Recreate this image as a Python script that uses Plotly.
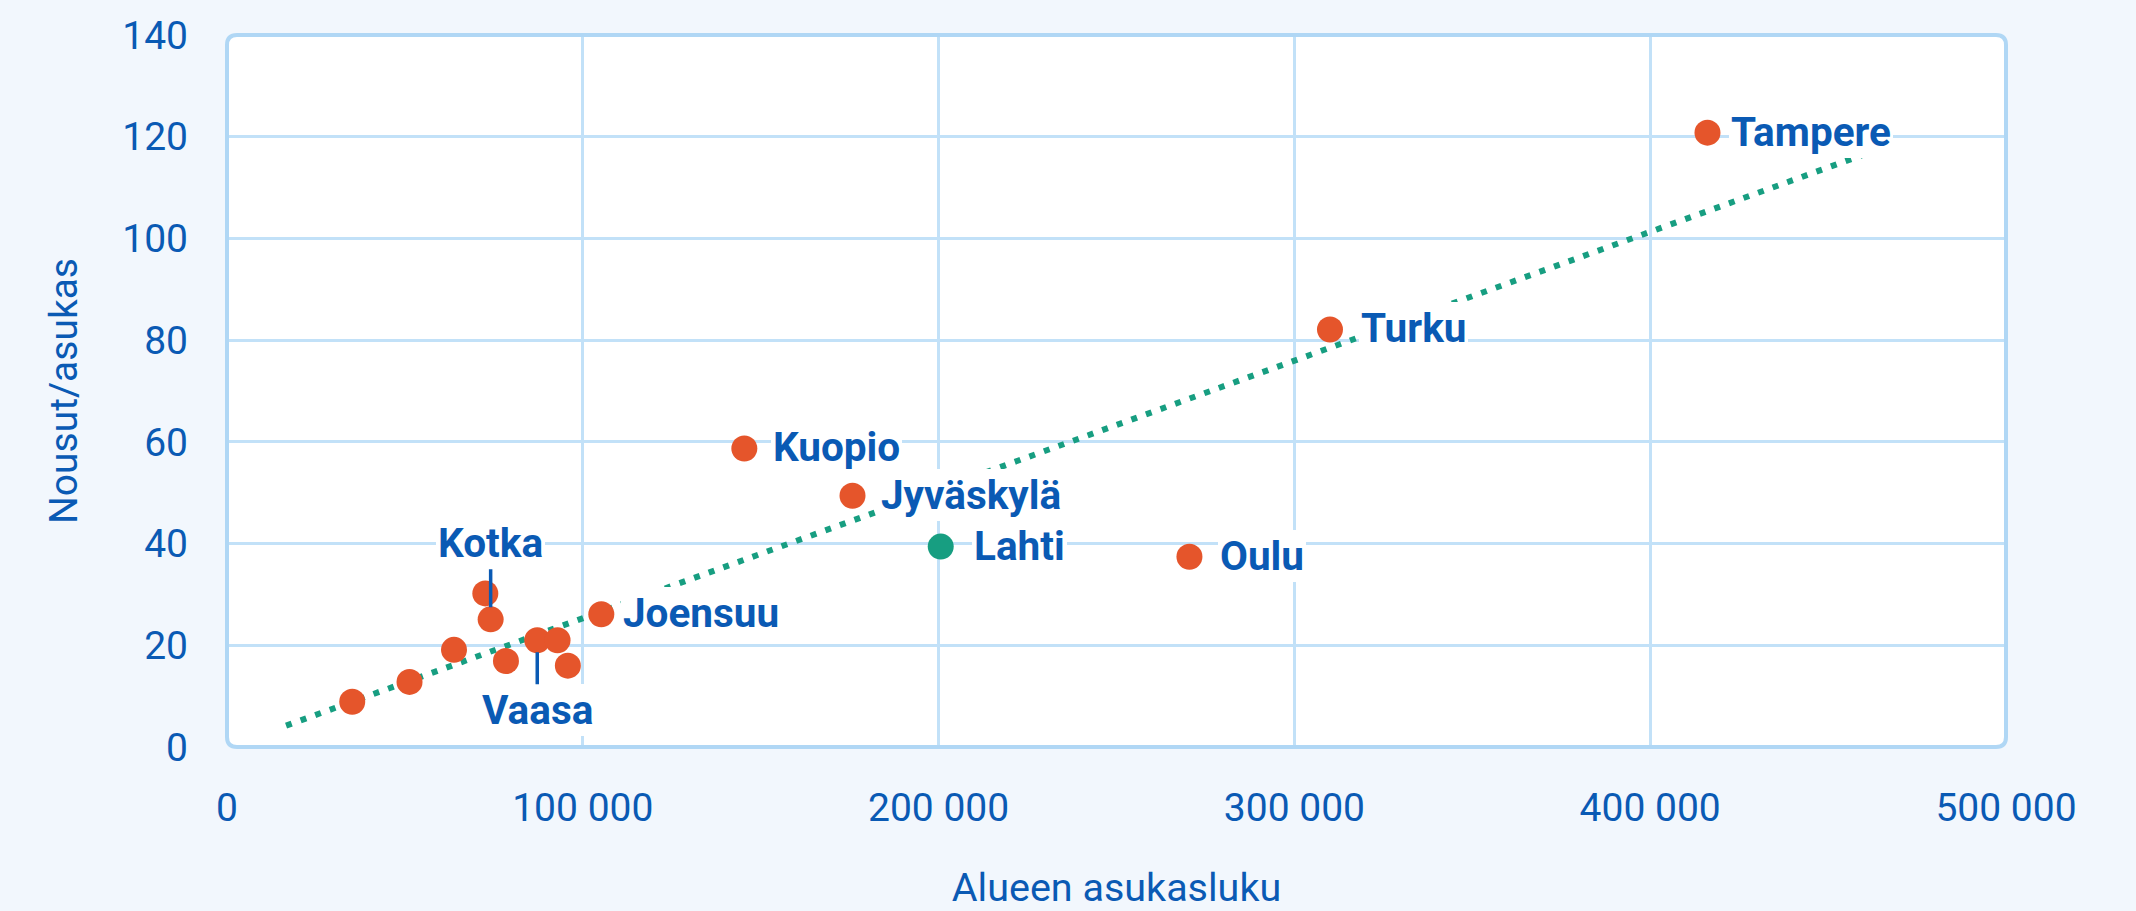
import plotly.graph_objects as go

# ---------------- data ----------------
cities = ["Tampere", "Turku", "Oulu", "Kuopio", "Jyväskylä", "Lahti", "Joensuu", "Kotka", "Vaasa",
          "", "", "", "", "", "", ""]
population = [416100, 310000, 270500, 145400, 175800, 200600, 105200, 74100, 87200,
              35200, 51300, 63800, 72600, 78400, 92900, 95800]
boardings = [120.8, 82.1, 37.4, 58.7, 49.4, 39.4, 26.1, 25.1, 21.0,
             8.9, 12.8, 19.1, 30.2, 16.9, 21.0, 16.0]
highlight_city = "Lahti"

trend_x = [16600, 462000]
trend_y = [4.2, 117.0]

x_tick_vals = [0, 100000, 200000, 300000, 400000, 500000]
x_tick_text = ["0", "100 000", "200 000", "300 000", "400 000", "500 000"]
y_tick_vals = [0, 20, 40, 60, 80, 100, 120, 140]
y_tick_text = ["0", "20", "40", "60", "80", "100", "120", "140"]

x_title = "Alueen asukasluku"
y_title = "Nousut/asukas"

# ---------------- style ----------------
BG = "#f2f7fd"
TXT = "#0a5ab4"
ORANGE = "#e5552b"
GREEN = "#179e81"
GRID = "#c2e1f8"
BORDER = "#b0d7f5"
FONT = "Roboto"

W, H = 2136, 911
ML, MR, MT, MB = 227, 130, 35, 164
PW, PH = W - ML - MR, H - MT - MB

# label placement (pixel offsets, styling only)
side_shift = {"Tampere": 22, "Turku": 29, "Oulu": 29, "Kuopio": 27, "Jyväskylä": 26,
              "Lahti": 31, "Joensuu": 20}
arrow_offset = {"Kotka": -76, "Vaasa": 70}

fig = go.Figure()

# trend line (dotted)
fig.add_trace(go.Scatter(
    x=trend_x, y=trend_y, mode="lines",
    line=dict(color=GREEN, width=6, dash="6px,9.5px"),
    hoverinfo="skip"))

colors = [GREEN if c == highlight_city else ORANGE for c in cities]
fig.add_trace(go.Scatter(
    x=population, y=boardings, mode="markers",
    marker=dict(size=26, color=colors, line=dict(width=0)),
    text=cities, hoverinfo="text+x+y"))

annotations = []
for c, px, py in zip(cities, population, boardings):
    if not c:
        continue
    if c in side_shift:
        annotations.append(dict(
            x=px, y=py, xref="x", yref="y", text=c, showarrow=False,
            xanchor="left", yanchor="middle", xshift=side_shift[c], yshift=1,
            bgcolor="white", borderpad=2, borderwidth=0,
            font=dict(family=FONT, size=40.5, color=TXT, weight="bold")))
    elif c in arrow_offset:
        annotations.append(dict(
            x=px, y=py, xref="x", yref="y", text=c, showarrow=True,
            arrowhead=0, arrowwidth=3.5, arrowcolor=TXT, ax=0, ay=arrow_offset[c],
            standoff=12, bgcolor="white", borderpad=2, borderwidth=0,
            font=dict(family=FONT, size=40.5, color=TXT, weight="bold")))

# rounded plot frame
r = 10
rx, ry = r / PW, r / PH
frame = (f"M {rx},0 L {1-rx},0 Q 1,0 1,{ry} L 1,{1-ry} Q 1,1 {1-rx},1 "
         f"L {rx},1 Q 0,1 0,{1-ry} L 0,{ry} Q 0,0 {rx},0 Z")
shapes = [
    dict(type="path", path=frame, xref="paper", yref="paper", fillcolor="white",
         line=dict(width=0), layer="below"),
    dict(type="path", path=frame, xref="paper", yref="paper", fillcolor="rgba(0,0,0,0)",
         line=dict(color=BORDER, width=4), layer="above"),
]

fig.update_layout(
    width=W, height=H,
    margin=dict(l=ML, r=MR, t=MT, b=MB, pad=0),
    paper_bgcolor=BG, plot_bgcolor=BG,
    showlegend=False,
    font=dict(family=FONT, size=40, color=TXT),
    annotations=annotations,
    shapes=shapes,
)
fig.update_xaxes(
    range=[0, 500000], tickvals=x_tick_vals, ticktext=x_tick_text,
    showgrid=True, gridcolor=GRID, gridwidth=2.5, zeroline=False, showline=False,
    ticks="", ticklabelstandoff=34, automargin=False,
    tickfont=dict(family=FONT, size=39, color=TXT),
    title=dict(text=x_title, standoff=56, font=dict(family=FONT, size=39.5, color=TXT)))
fig.update_yaxes(
    range=[0, 140], tickvals=y_tick_vals, ticktext=y_tick_text,
    showgrid=True, gridcolor=GRID, gridwidth=2.5, zeroline=False, showline=False,
    ticks="", ticklabelstandoff=38, automargin=False,
    tickfont=dict(family=FONT, size=39, color=TXT),
    title=dict(text=y_title, standoff=32, font=dict(family=FONT, size=39, color=TXT)))

fig.write_html("out.html", config={"displayModeBar": False},
               post_script="document.body.style.margin='0';document.body.style.background='%s';" % BG)
